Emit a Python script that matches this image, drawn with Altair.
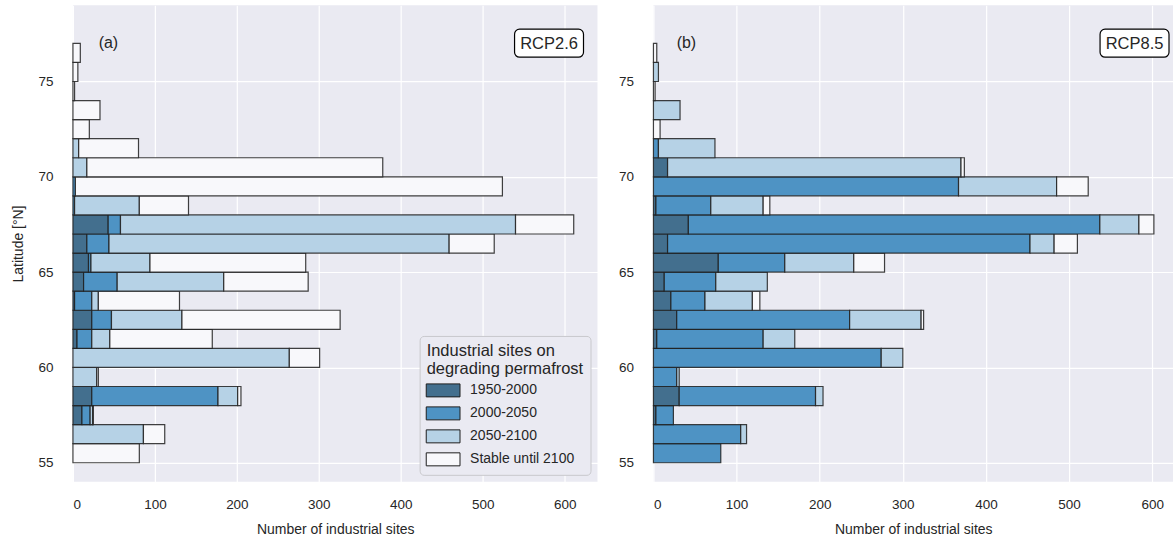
import altair as alt
import pandas as pd

# 1-degree latitude bands (lower edge, °N)
LAT = list(range(55, 77))

PERIODS = ["1950-2000", "2000-2050", "2050-2100", "Stable until 2100"]
COLORS = ["#436f8e", "#4e93c4", "#b6d2e6", "#f8f8fb"]

# Industrial sites per band, by period in which the ground beneath degrades
RCP26_1950_2000 = [0, 0, 11, 23, 0, 0, 5, 23, 2, 13, 19, 17, 43, 0, 0, 0, 0, 0, 0, 0, 0, 0]
RCP26_2000_2050 = [0, 0, 10, 154, 0, 0, 18, 24, 21, 41, 3, 27, 15, 2, 3, 0, 0, 0, 0, 0, 0, 0]
RCP26_2050_2100 = [0, 86, 3, 24, 29, 264, 22, 86, 8, 130, 72, 415, 482, 79, 0, 17, 7, 0, 0, 0, 0, 0]
RCP26_STABLE = [81, 26, 1, 4, 2, 37, 125, 193, 99, 103, 190, 55, 71, 60, 521, 361, 73, 20, 33, 2, 6, 9]

RCP85_1950_2000 = [0, 0, 3, 31, 0, 0, 4, 28, 21, 13, 78, 17, 42, 3, 0, 17, 0, 0, 0, 0, 0, 0]
RCP85_2000_2050 = [81, 105, 21, 164, 28, 274, 128, 208, 41, 62, 80, 436, 495, 66, 367, 0, 6, 0, 0, 0, 0, 0]
RCP85_2050_2100 = [0, 7, 0, 9, 3, 26, 38, 86, 57, 62, 83, 29, 47, 63, 118, 353, 68, 0, 32, 0, 6, 0]
RCP85_STABLE = [0, 0, 0, 0, 0, 0, 0, 3, 9, 0, 37, 28, 18, 8, 38, 4, 0, 8, 0, 2, 0, 4]

SCENARIOS = {
    "RCP2.6": [RCP26_1950_2000, RCP26_2000_2050, RCP26_2050_2100, RCP26_STABLE],
    "RCP8.5": [RCP85_1950_2000, RCP85_2000_2050, RCP85_2050_2100, RCP85_STABLE],
}

TEXT = "#262626"
FONT = "Liberation Sans"


def stacked_table(series):
    rows = []
    for i, lat in enumerate(LAT):
        left = 0
        for period, values in zip(PERIODS, series):
            n = values[i]
            if n > 0:
                rows.append({"lat": lat, "lat_top": lat + 1, "period": period,
                             "count": n, "start": left, "end": left + n})
            left += n
    return pd.DataFrame(rows)


def panel(scenario, tag, width, xmax, box_x, tag_x, y_title, legend):
    data = stacked_table(SCENARIOS[scenario])
    y_axis = alt.Axis(values=[55, 60, 65, 70, 75], labelPadding=20, titlePadding=12,
                      title=y_title)
    bars = alt.Chart(data).mark_rect(
        stroke="#1e1e1e", strokeWidth=1.2, strokeOpacity=0.85
    ).encode(
        x=alt.X("start:Q", scale=alt.Scale(domain=[0, xmax], nice=False),
                axis=alt.Axis(values=[0, 100, 200, 300, 400, 500, 600], labelPadding=16,
                              titlePadding=11, title="Number of industrial sites")),
        x2="end:Q",
        y=alt.Y("lat:Q", scale=alt.Scale(domain=[54, 79], nice=False, zero=False), axis=y_axis),
        y2="lat_top:Q",
        color=alt.Color("period:N", scale=alt.Scale(domain=PERIODS, range=COLORS),
                        sort=PERIODS, legend=legend),
        tooltip=["lat:Q", "period:N", "count:Q"],
    )
    label_df = pd.DataFrame({"label": [scenario]})
    box = alt.Chart(label_df).mark_rect(
        fill="white", stroke="black", strokeWidth=1.2, cornerRadius=5
    ).encode(
        x=alt.value(box_x), x2=alt.value(box_x + 69), y=alt.value(24), y2=alt.value(52)
    )
    box_text = alt.Chart(label_df).mark_text(
        fontSize=16.5, color=TEXT, align="center", baseline="middle", font=FONT
    ).encode(x=alt.value(box_x + 34.5), y=alt.value(38.5), text="label:N")
    tag_df = pd.DataFrame({"tag": [tag]})
    tag_text = alt.Chart(tag_df).mark_text(
        fontSize=16, color=TEXT, align="center", baseline="middle", font=FONT
    ).encode(x=alt.value(tag_x), y=alt.value(37.5), text="tag:N")
    return alt.layer(bars, box, box_text, tag_text).properties(width=width, height=477)


legend_a = alt.Legend(
    title=["Industrial sites on", "degrading permafrost"],
    orient="bottom-right", offset=7,
    fillColor="#eaeaf2", strokeColor="#c8c8cc", cornerRadius=4, padding=7,
    titleFontSize=16.5, titleFontWeight="normal", titleColor=TEXT, titleFont=FONT,
    titleLineHeight=18, titlePadding=6,
    labelFontSize=14, labelColor=TEXT, labelFont=FONT,
    symbolType="M-2.6,-1L2.6,-1L2.6,1L-2.6,1Z", symbolSize=169,
    symbolStrokeColor="#1e1e1e", symbolStrokeWidth=1, symbolOpacity=1,
    symbolOffset=9.5, labelOffset=20, rowPadding=5,
)

left = panel("RCP2.6", "(a)", 525, 640, 442, 35.5, "Latitude [°N]", legend_a)
right = panel("RCP8.5", "(b)", 520, 625, 447, 33, None, None)

chart = alt.hconcat(left, right, spacing=20).resolve_scale(color="independent").properties(
    padding={"left": 11, "top": 5, "right": 0, "bottom": 0}
).configure(
    font=FONT
).configure_view(
    fill="#eaeaf2", strokeWidth=0
).configure_axis(
    grid=True, gridColor="white", gridWidth=1.2, domain=False, ticks=False,
    labelFont=FONT, labelFontSize=13.5, labelColor=TEXT,
    titleFont=FONT, titleFontSize=14, titleFontWeight="normal", titleColor=TEXT,
)

chart.save("out.html", embed_options={"renderer": "svg", "actions": False})
